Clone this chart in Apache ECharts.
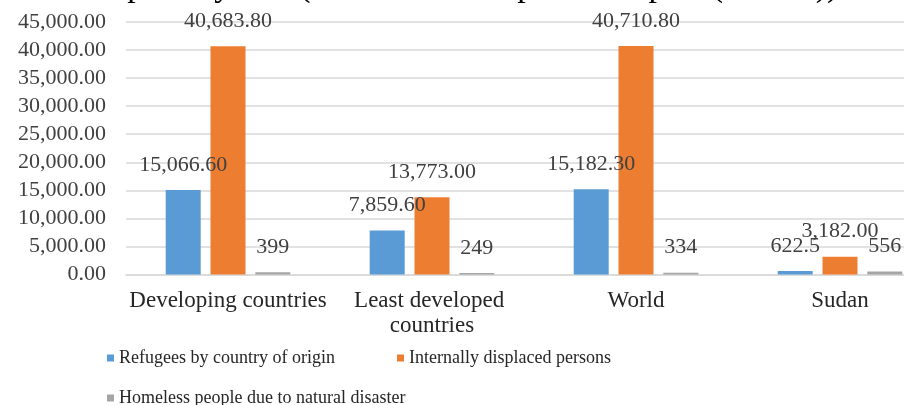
<!DOCTYPE html>
<html>
<head>
<meta charset="utf-8">
<script src="https://cdn.jsdelivr.net/npm/echarts@6/dist/echarts.min.js"></script>
<style>
  html, body { margin: 0; padding: 0; background: #fff; }
  #chart { width: 904px; height: 405px; }
</style>
</head>
<body>
<div id="chart"></div>
<script>
// Displacement figures by region (thousands)
const categories = ['Developing countries', 'Least developed countries', 'World', 'Sudan'];
const refugees = [15066.6, 7859.6, 15182.3, 622.5];
const refugeeDecimals = [2, 2, 2, 1];
const displaced = [40683.8, 13773.0, 40710.8, 3182.0];
const homeless = [399, 249, 334, 556];
const seriesNames = ['Refugees by country of origin', 'Internally displaced persons', 'Homeless people due to natural disaster'];
const yTicks = { min: 0, max: 45000, step: 5000 };
const captionText = 'rnational poverty line (Human Development Report (UNDP))';

const serif = '"Liberation Serif", "Times New Roman", serif';
const fmt = (v, d) => v.toLocaleString('en-US', { minimumFractionDigits: d, maximumFractionDigits: d });

const labelBase = {
  show: true,
  position: 'top',
  distance: 14,
  fontFamily: serif,
  fontSize: 22,
  color: '#404040'
};

const legendStyle = {
  itemWidth: 7,
  itemHeight: 7,
  icon: 'rect',
  textStyle: { fontFamily: serif, fontSize: 18, color: '#262626' }
};

const chart = echarts.init(document.getElementById('chart'), null, { renderer: 'canvas' });

chart.setOption({
  animation: false,
  backgroundColor: '#ffffff',
  graphic: [{
    type: 'text',
    x: -2,
    y: 4,
    z: 10,
    style: {
      text: captionText,
      font: '34px ' + serif,
      fill: '#000000',
      align: 'left',
      verticalAlign: 'bottom'
    }
  }],
  legend: [
    Object.assign({ data: [seriesNames[0]], left: 102, top: 344 }, legendStyle),
    Object.assign({ data: [seriesNames[1]], left: 392, top: 344 }, legendStyle),
    Object.assign({ data: [seriesNames[2]], left: 102, top: 384 }, legendStyle)
  ],
  // plot area runs past the right edge of the canvas
  grid: { left: 126, top: 22, width: 816, height: 252.5, containLabel: false, outerBoundsMode: 'none' },
  xAxis: {
    type: 'category',
    data: categories,
    axisLine: { lineStyle: { color: '#d9d9d9', width: 1.5 } },
    axisTick: { show: false },
    axisLabel: {
      fontFamily: serif,
      fontSize: 23,
      color: '#262626',
      margin: 14,
      lineHeight: 25,
      width: 204,
      overflow: 'break',
      interval: 0
    }
  },
  yAxis: {
    type: 'value',
    min: yTicks.min,
    max: yTicks.max,
    interval: yTicks.step,
    axisLine: { show: false },
    axisTick: { show: false },
    splitLine: { lineStyle: { color: '#d9d9d9', width: 1.5 } },
    axisLabel: {
      fontFamily: serif,
      fontSize: 22,
      color: '#404040',
      margin: 20,
      formatter: v => fmt(v, 2)
    }
  },
  series: [{
    name: seriesNames[0],
    type: 'bar',
    data: refugees,
    barWidth: 35,
    barGap: '28%',
    itemStyle: { color: '#5B9BD5' },
    label: Object.assign({}, labelBase, {
      formatter: p => fmt(p.value, refugeeDecimals[p.dataIndex])
    })
  }, {
    name: seriesNames[1],
    type: 'bar',
    data: displaced,
    barWidth: 35,
    barGap: '28%',
    itemStyle: { color: '#ED7D31' },
    label: Object.assign({}, labelBase, { formatter: p => fmt(p.value, 2) })
  }, {
    name: seriesNames[2],
    type: 'bar',
    data: homeless,
    barWidth: 35,
    barGap: '28%',
    itemStyle: { color: '#A5A5A5' },
    label: Object.assign({}, labelBase, { formatter: p => fmt(p.value, 0) })
  }]
});
</script>
</body>
</html>
